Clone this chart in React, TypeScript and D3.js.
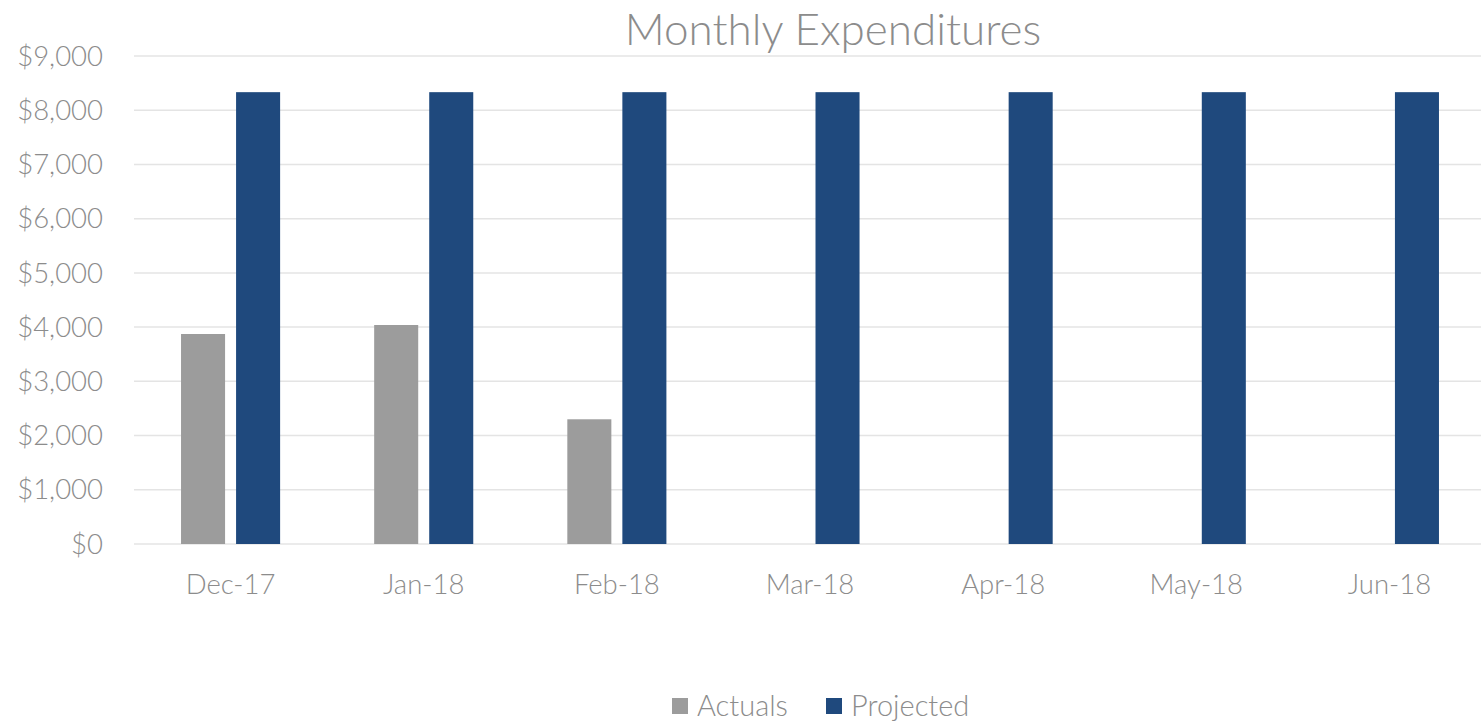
import React, { useEffect, useRef } from 'react';
import * as d3 from 'd3';

// chart data
const months = ['Dec-17', 'Jan-18', 'Feb-18', 'Mar-18', 'Apr-18', 'May-18', 'Jun-18'];
const actuals: (number | null)[] = [3873, 4039, 2300, null, null, null, null];
const projected: number[] = [8333, 8333, 8333, 8333, 8333, 8333, 8333];
const seriesNames = ['Actuals', 'Projected'];
const yTicks = [0, 1000, 2000, 3000, 4000, 5000, 6000, 7000, 8000, 9000];

const colors: Record<string, string> = { Actuals: '#9c9c9c', Projected: '#1f497d' };
const textColor = '#8c8c8c';
const font = 'Lato, "Open Sans", sans-serif';

const App = () => {
  const ref = useRef<SVGSVGElement>(null);

  useEffect(() => {
    const svg = d3.select(ref.current);
    svg.selectAll('*').remove();

    const left = 134;
    const right = 1481;
    const top = 56;
    const bottom = 544;

    // category bands are slightly wider than the visible plot (last gap is clipped)
    const x = d3.scaleBand().domain(months).range([left, 1486]).paddingInner(0.487).paddingOuter(0.2435);
    const xSub = d3.scaleBand().domain(seriesNames).range([0, x.bandwidth()]).paddingInner(0.2);
    const y = d3.scaleLinear().domain([0, 9000]).range([bottom, top]);

    // gridlines
    svg
      .append('g')
      .selectAll('line')
      .data(yTicks)
      .enter()
      .append('line')
      .attr('x1', left)
      .attr('x2', right)
      .attr('y1', (d) => y(d))
      .attr('y2', (d) => y(d))
      .attr('stroke', '#e4e4e4')
      .attr('stroke-width', 1.5);

    // y tick labels
    svg
      .append('g')
      .selectAll('text')
      .data(yTicks)
      .enter()
      .append('text')
      .attr('x', 103)
      .attr('y', (d) => y(d))
      .attr('dy', '0.35em')
      .attr('text-anchor', 'end')
      .style('font-family', font)
      .style('font-weight', 300)
      .style('font-size', '27.5px')
      .attr('fill', textColor)
      .text((d) => d3.format('$,')(d));

    // bars
    const rows = months.map((m, i) => ({ month: m, Actuals: actuals[i], Projected: projected[i] }));
    const groups = svg
      .append('g')
      .selectAll('g')
      .data(rows)
      .enter()
      .append('g')
      .attr('transform', (d) => `translate(${x(d.month)},0)`);

    groups
      .selectAll('rect')
      .data((d) => seriesNames.map((s) => ({ key: s, value: (d as any)[s] as number | null })).filter((v) => v.value != null))
      .enter()
      .append('rect')
      .attr('x', (d) => xSub(d.key) as number)
      .attr('width', xSub.bandwidth())
      .attr('y', (d) => y(d.value as number))
      .attr('height', (d) => bottom - y(d.value as number))
      .attr('fill', (d) => colors[d.key]);

    // x labels
    svg
      .append('g')
      .selectAll('text')
      .data(months)
      .enter()
      .append('text')
      .attr('x', (d) => (x(d) as number) + x.bandwidth() / 2)
      .attr('y', 594)
      .attr('text-anchor', 'middle')
      .style('font-family', font)
      .style('font-weight', 300)
      .style('font-size', '27.5px')
      .attr('fill', textColor)
      .text((d) => d);

    // title
    svg
      .append('text')
      .attr('x', 833)
      .attr('y', 45)
      .attr('text-anchor', 'middle')
      .style('font-family', font)
      .style('font-weight', 300)
      .style('font-size', '44px')
      .attr('fill', textColor)
      .text('Monthly Expenditures');

    // legend
    const legendX = [672, 826];
    const legend = svg
      .append('g')
      .selectAll('g')
      .data(seriesNames)
      .enter()
      .append('g')
      .attr('transform', (d, i) => `translate(${legendX[i]},698)`);
    legend.append('rect').attr('width', 16).attr('height', 16).attr('fill', (d) => colors[d]);
    legend
      .append('text')
      .attr('x', 25)
      .attr('y', 8)
      .attr('dy', '0.35em')
      .style('font-family', font)
      .style('font-weight', 300)
      .style('font-size', '29px')
      .attr('fill', textColor)
      .text((d) => d);
  }, []);

  return (
    <div style={{ position: 'absolute', left: 0, top: 0 }}>
      <svg ref={ref} width="1481" height="722"></svg>
    </div>
  );
};

export default App;
